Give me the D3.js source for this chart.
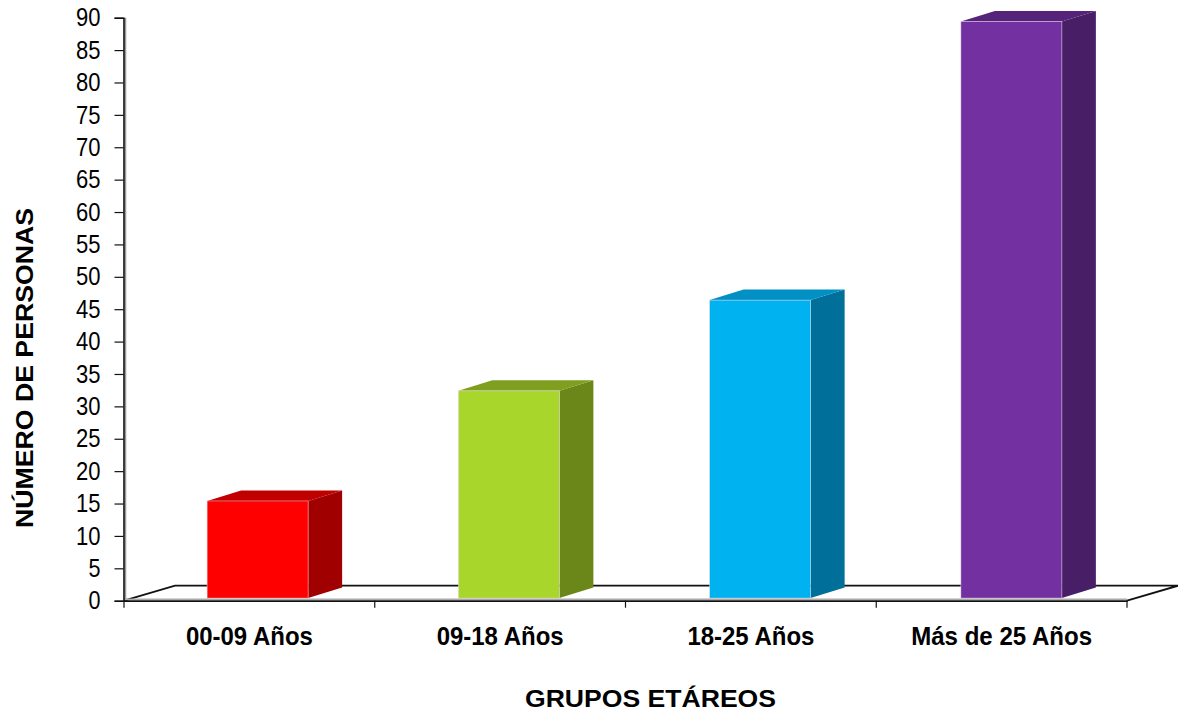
<!DOCTYPE html>
<html><head><meta charset="utf-8">
<script src="https://cdn.jsdelivr.net/npm/d3@7/dist/d3.min.js"></script>
<style>html,body{margin:0;padding:0;background:#fff}svg{display:block}</style></head>
<body><svg id="c" width="1178" height="715"></svg>
<script>
const categories = ["00-09 Años","09-18 Años","18-25 Años","Más de 25 Años"];
const values = [15,32,46,89];
const frontColors = ["#ff0000","#a9d62b","#00b2f0","#7230a0"];
const sideColors = ["#a00000","#6b8719","#006f99","#481e66"];
const topColors = ["#c00000","#7f9f20","#0090c4","#552379"];
const yTicks = d3.range(0,95,5);
const xLabelWidths = [127,127,127,181];
const yTitle = "NÚMERO DE PERSONAS", xTitle = "GRUPOS ETÁREOS";

const W=1178,H=715, x0=124, x1=1127, yBase=600.7, yTop=17.7, dx=34, dy=10.5, floorDx=51, floorDy=15, lift=2.6;
const svg=d3.select("#c");
const x=d3.scaleBand().domain(categories).range([x0,x1]).paddingInner(0.598).paddingOuter(0.299);
const xBar=d3.scaleBand().domain(categories).range([x0+8,x1+10]).paddingInner(0.598).paddingOuter(0.299);
const y=d3.scaleLinear().domain([0,90]).range([yBase,yTop]);

// floor
const floorPts=[[x0,yBase],[x0+floorDx,yBase-floorDy],[x1+floorDx,yBase-floorDy],[x1,yBase]];
svg.append("path").attr("d",d3.line()(floorPts)).attr("fill","#fff").attr("stroke","#111").attr("stroke-width",1.8);

// bars
const bars=svg.append("g").selectAll("g").data(categories.map((c,i)=>({c,v:values[i],i}))).join("g");
const L=d3.line();
bars.each(function(d){
  const g=d3.select(this), a=xBar(d.c), b=a+xBar.bandwidth(), t=y(d.v)-lift, f=yBase-lift;
  g.append("path").attr("d",L([[b,t],[b+dx,t-dy],[b+dx,f-dy],[b,f]])+"Z").attr("fill",sideColors[d.i]);
  g.append("path").attr("d",L([[a,t],[a+dx,t-dy],[b+dx,t-dy],[b,t]])+"Z").attr("fill",topColors[d.i]);
  g.append("rect").attr("x",a).attr("y",t).attr("width",b-a).attr("height",f-t)
    .attr("fill",frontColors[d.i]).attr("stroke","#e8d8e8").attr("stroke-width",0.7).attr("stroke-opacity",0.7);
});

// axes
const font="'Liberation Sans',Arial,sans-serif";
const yAxis=d3.axisLeft(y).tickValues(yTicks).tickSize(9).tickPadding(14);
const xAxis=d3.axisBottom(x).tickSize(0).tickPadding(25);
svg.append("line").attr("x1",x0+1.5).attr("x2",x0+1.5).attr("y1",yTop).attr("y2",yBase).attr("stroke","#999").attr("stroke-width",1.5);
svg.append("line").attr("x1",x0).attr("x2",x1).attr("y1",yBase-1.5).attr("y2",yBase-1.5).attr("stroke","#aaa").attr("stroke-width",1.5);
const gy=svg.append("g").attr("transform",`translate(${x0-0.5},0)`).call(yAxis);
gy.selectAll(".domain").attr("stroke","#111").attr("stroke-width",1.6);
gy.selectAll(".tick line").attr("stroke","#111").attr("stroke-width",1.2);
gy.selectAll("text").attr("font-family",font).attr("font-size",25.5).attr("fill","#000")
  .attr("lengthAdjust","spacingAndGlyphs").attr("textLength",d=>d<10?12:24.5);
const gx=svg.append("g").attr("transform",`translate(0,${yBase})`).call(xAxis);
gx.selectAll(".domain").attr("stroke","#111").attr("stroke-width",1.8);
gx.selectAll(".tick line").remove();
gx.selectAll("text").attr("font-family",font).attr("font-size",26.5).attr("font-weight","bold").attr("fill","#000")
  .attr("lengthAdjust","spacingAndGlyphs").attr("textLength",(d,i)=>xLabelWidths[i]);
// category boundary ticks
const step=x.step();
svg.append("g").selectAll("line").data(categories.concat("end")).join("line")
  .attr("x1",(d,i)=>x0+i*step).attr("x2",(d,i)=>x0+i*step)
  .attr("y1",yBase).attr("y2",yBase+7).attr("stroke","#111").attr("stroke-width",1.2);

// titles
svg.append("text").attr("x",650.5).attr("y",707).attr("text-anchor","middle")
  .attr("font-family",font).attr("font-weight","bold").attr("font-size",24).attr("fill","#000")
  .attr("lengthAdjust","spacingAndGlyphs").attr("textLength",251).text(xTitle);
svg.append("text").attr("transform","translate(33,368) rotate(-90)").attr("text-anchor","middle")
  .attr("font-family",font).attr("font-weight","bold").attr("font-size",24.5).attr("fill","#000")
  .attr("lengthAdjust","spacingAndGlyphs").attr("textLength",320).text(yTitle);
</script></body></html>
